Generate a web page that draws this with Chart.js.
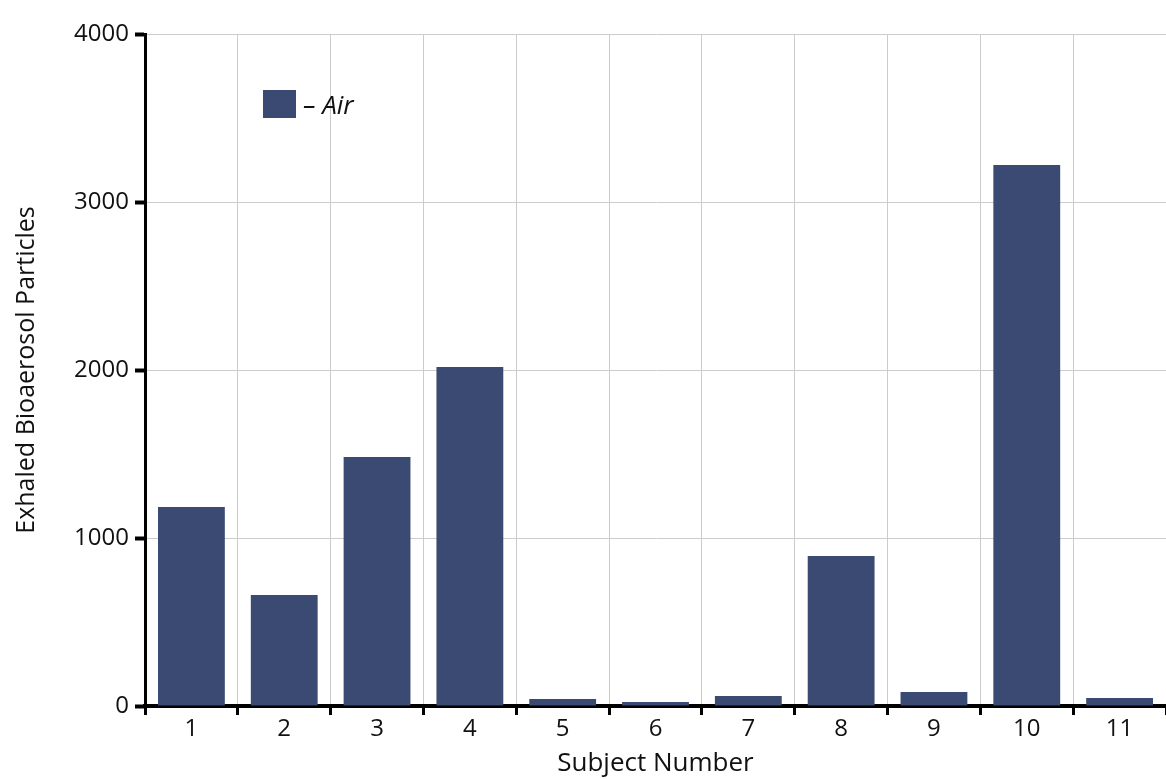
<!DOCTYPE html>
<html>
<head>
<meta charset="utf-8">
<script src="https://cdn.jsdelivr.net/npm/chart.js@4/dist/chart.umd.min.js"></script>
<style>
html,body{margin:0;padding:0;background:#fff;}
#wrap{width:1166px;height:779px;position:relative;}
</style>
</head>
<body>
<div id="wrap"><canvas id="c" width="1166" height="779"></canvas></div>
<script>
const categories = ['1','2','3','4','5','6','7','8','9','10','11'];
const airValues = [1185, 661, 1482, 2018, 42, 24, 60, 893, 83, 3220, 48];
const yTicks = [0, 1000, 2000, 3000, 4000];
const seriesLabel = '– Air';
const xTitle = 'Subject Number';
const yTitle = 'Exhaled Bioaerosol Particles';

const FONT = "'Open Sans', 'DejaVu Sans', sans-serif";
const BAR = '#3b4a72';

const legendInside = {
  id: 'legendInside',
  afterDraw(chart) {
    const ctx = chart.ctx;
    const ds = chart.data.datasets[0];
    ctx.save();
    ctx.fillStyle = ds.backgroundColor;
    ctx.fillRect(263, 90, 33, 28);
    ctx.fillStyle = '#111';
    ctx.font = "italic 26px " + FONT;
    ctx.textBaseline = 'alphabetic';
    ctx.textAlign = 'left';
    ctx.fillText(ds.label, 303, 114);
    ctx.restore();
  }
};

new Chart(document.getElementById('c'), {
  type: 'bar',
  data: {
    labels: categories,
    datasets: [{
      label: seriesLabel,
      data: airValues,
      backgroundColor: BAR,
      borderWidth: 0,
      barPercentage: 0.72,
      categoryPercentage: 1.0
    }]
  },
  options: {
    responsive: false,
    animation: false,
    layout: { padding: { top: 34, right: 0, left: 0, bottom: 0 } },
    plugins: { legend: { display: false }, tooltip: { enabled: false } },
    scales: {
      x: {
        offset: true,
        grid: { offset: true, color: '#cccccc', lineWidth: 1, tickColor: '#000', tickWidth: 3, tickLength: 9, drawOnChartArea: true },
        border: { color: '#000', width: 4 },
        ticks: { color: '#111', font: { family: FONT, size: 24 }, padding: 0 },
        title: { display: true, text: xTitle, color: '#111', font: { family: FONT, size: 26 }, padding: { top: 0, bottom: 0 } },
        afterFit(scale) { scale.height = 73; }
      },
      y: {
        min: 0, max: 4000,
        afterBuildTicks(scale) { scale.ticks = yTicks.map(v => ({ value: v })); },
        grid: { color: '#cccccc', lineWidth: 1, tickColor: '#000', tickWidth: 4, tickLength: 10 },
        border: { color: '#000', width: 3 },
        ticks: { color: '#111', font: { family: FONT, size: 24 }, padding: 6, callback: (v) => String(v) },
        title: { display: true, text: yTitle, color: '#111', font: { family: FONT, size: 25 }, padding: { top: 12, bottom: 0 } },
        afterFit(scale) { scale.width = 145; }
      }
    }
  },
  plugins: [legendInside]
});
</script>
</body>
</html>
